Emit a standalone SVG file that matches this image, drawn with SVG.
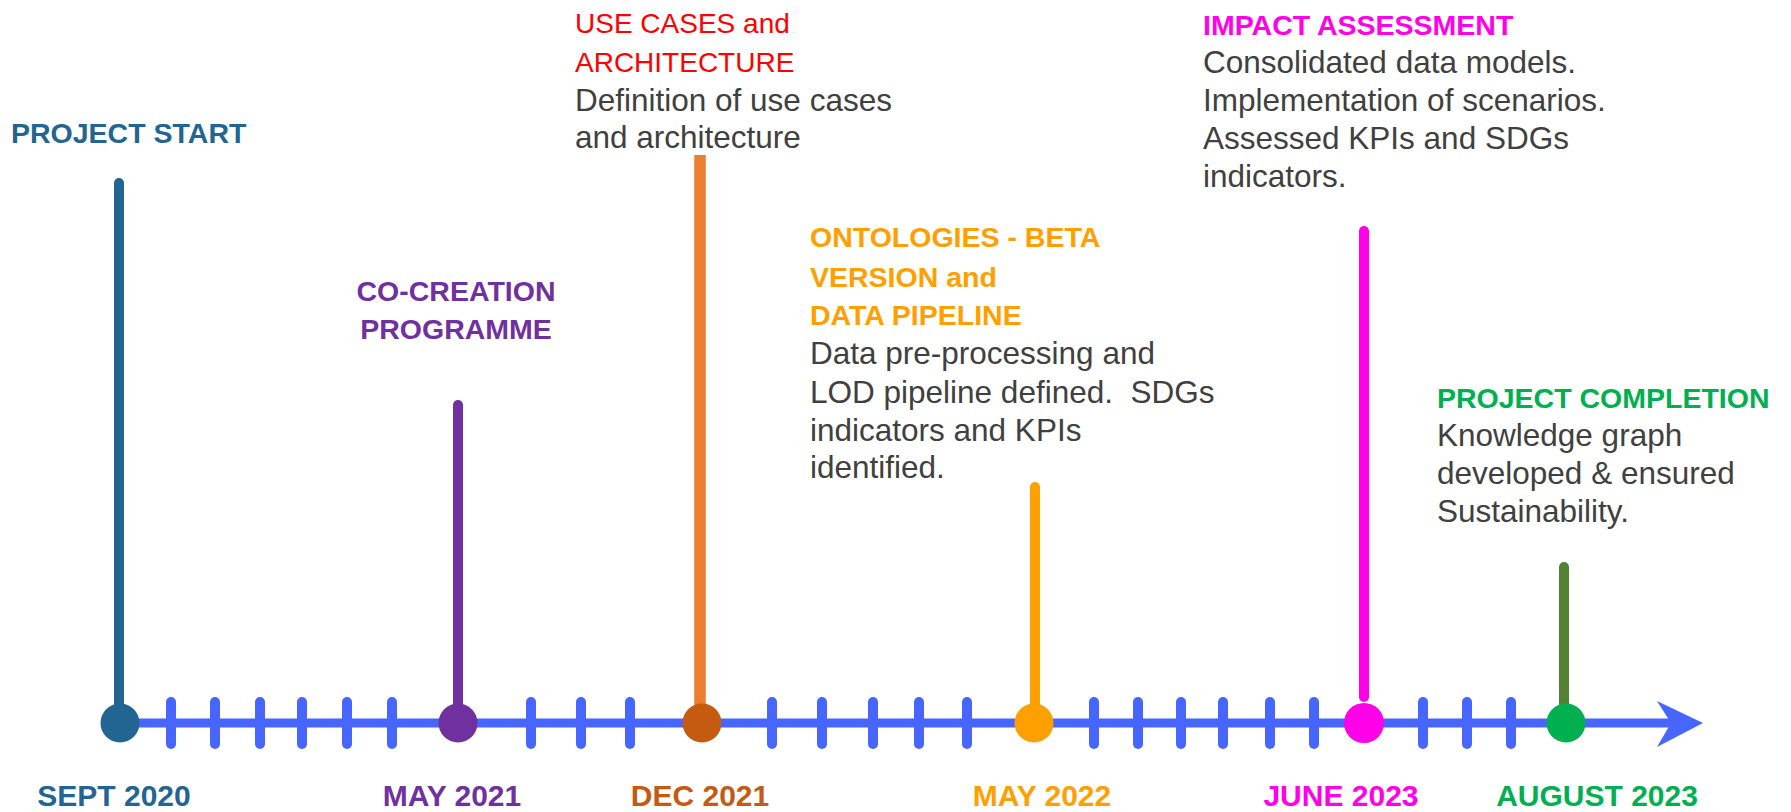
<svg xmlns="http://www.w3.org/2000/svg" width="1791" height="812" viewBox="0 0 1791 812">
<style>
text{font-family:"Liberation Sans",Arial,sans-serif;}
.h{font-weight:bold;font-size:28.5px;}
.d{font-weight:bold;font-size:30px;text-anchor:middle;}
.b{font-size:31.5px;fill:#404040;}
.r{font-size:28px;fill:#FF0000;}
.stem{stroke-width:10;stroke-linecap:round;fill:none;}
.tick{stroke:#4666FF;stroke-width:10;stroke-linecap:round;}
</style>
<rect width="1791" height="812" fill="#FFFFFF"/>
<g id="connectors">
<line x1="120" y1="723" x2="1672" y2="723" stroke="#4666FF" stroke-width="9"/>
<polygon points="1657,701 1703,723 1657,747 1671,723" fill="#4666FF"/>
<g class="tick">
<line x1="171" y1="702" x2="171" y2="744"/>
<line x1="215" y1="702" x2="215" y2="744"/>
<line x1="260" y1="702" x2="260" y2="744"/>
<line x1="302" y1="702" x2="302" y2="744"/>
<line x1="347" y1="702" x2="347" y2="744"/>
<line x1="392" y1="702" x2="392" y2="744"/>
<line x1="531" y1="702" x2="531" y2="744"/>
<line x1="581" y1="702" x2="581" y2="744"/>
<line x1="630" y1="702" x2="630" y2="744"/>
<line x1="772" y1="702" x2="772" y2="744"/>
<line x1="822" y1="702" x2="822" y2="744"/>
<line x1="873" y1="702" x2="873" y2="744"/>
<line x1="919" y1="702" x2="919" y2="744"/>
<line x1="967" y1="702" x2="967" y2="744"/>
<line x1="1094" y1="702" x2="1094" y2="744"/>
<line x1="1138" y1="702" x2="1138" y2="744"/>
<line x1="1181" y1="702" x2="1181" y2="744"/>
<line x1="1223" y1="702" x2="1223" y2="744"/>
<line x1="1270" y1="702" x2="1270" y2="744"/>
<line x1="1314" y1="702" x2="1314" y2="744"/>
<line x1="1423" y1="702" x2="1423" y2="744"/>
<line x1="1467" y1="702" x2="1467" y2="744"/>
<line x1="1511" y1="702" x2="1511" y2="744"/>
</g>
</g>
<g id="project-start">
<line class="stem" x1="119" y1="183" x2="119" y2="715" stroke="#236592"/>
<circle cx="120" cy="723" r="19.5" fill="#236592"/>
<text class="h" x="11" y="143" fill="#236592">PROJECT START</text>
<text class="d" x="114" y="806" fill="#236592">SEPT 2020</text>
</g>
<g id="co-creation">
<line class="stem" x1="458" y1="405" x2="458" y2="715" stroke="#7030A0"/>
<circle cx="458" cy="723" r="19.5" fill="#7030A0"/>
<text class="h" x="456" y="301" fill="#7030A0" text-anchor="middle">CO-CREATION</text>
<text class="h" x="456" y="339" fill="#7030A0" text-anchor="middle">PROGRAMME</text>
<text class="d" x="452" y="806" fill="#7030A0">MAY 2021</text>
</g>
<g id="use-cases">
<line x1="700" y1="155" x2="700" y2="715" stroke="#ED7D31" stroke-width="11.5"/>
<circle cx="702" cy="723" r="19.5" fill="#C55A11"/>
<text class="r" x="575" y="33">USE CASES and</text>
<text class="r" x="575" y="72">ARCHITECTURE</text>
<text class="b" x="575" y="111">Definition of use cases</text>
<text class="b" x="575" y="148">and architecture</text>
<text class="d" x="700" y="806" fill="#C55A11">DEC 2021</text>
</g>
<g id="ontologies">
<line class="stem" x1="1035" y1="487" x2="1035" y2="715" stroke="#FFA000"/>
<circle cx="1034" cy="723" r="19.5" fill="#FFA000"/>
<text class="h" x="810" y="247" fill="#FFA000">ONTOLOGIES - BETA</text>
<text class="h" x="810" y="287" fill="#FFA000">VERSION and</text>
<text class="h" x="810" y="325" fill="#FFA000">DATA PIPELINE</text>
<text class="b" x="810" y="364">Data pre-processing and</text>
<text class="b" x="810" y="403" xml:space="preserve">LOD pipeline defined.  SDGs</text>
<text class="b" x="810" y="441">indicators and KPIs</text>
<text class="b" x="810" y="478">identified.</text>
<text class="d" x="1042" y="806" fill="#FFA000">MAY 2022</text>
</g>
<g id="impact">
<line class="stem" x1="1364" y1="231" x2="1364" y2="697" stroke="#FF00E8"/>
<circle cx="1364" cy="723" r="20" fill="#FF00E8"/>
<text class="h" x="1203" y="35" fill="#FF00E8">IMPACT ASSESSMENT</text>
<text class="b" x="1203" y="73">Consolidated data models.</text>
<text class="b" x="1203" y="111">Implementation of scenarios.</text>
<text class="b" x="1203" y="149">Assessed KPIs and SDGs</text>
<text class="b" x="1203" y="187">indicators.</text>
<text class="d" x="1341" y="806" fill="#FF00E8">JUNE 2023</text>
</g>
<g id="completion">
<line class="stem" x1="1564" y1="567" x2="1564" y2="712" stroke="#548235"/>
<circle cx="1566" cy="723" r="19.5" fill="#00B050"/>
<text class="h" x="1437" y="408" fill="#00B050">PROJECT COMPLETION</text>
<text class="b" x="1437" y="446">Knowledge graph</text>
<text class="b" x="1437" y="484">developed &amp; ensured</text>
<text class="b" x="1437" y="522">Sustainability.</text>
<text class="d" x="1597" y="806" fill="#00B050">AUGUST 2023</text>
</g>
</svg>
